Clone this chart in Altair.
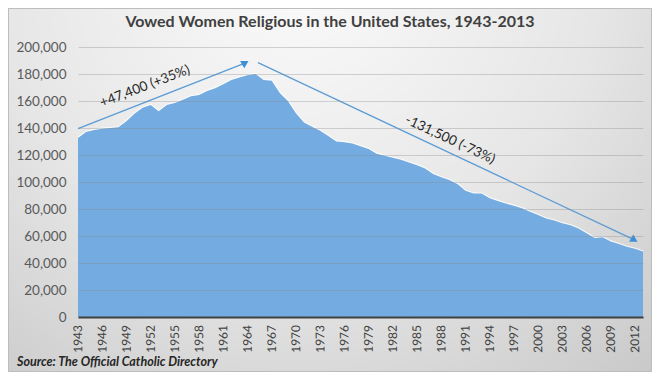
import altair as alt
import pandas as pd

years = list(range(1943, 2014))
sisters = [
    132600, 137000, 138500, 139500, 140000, 140500, 145000, 150500, 155000, 157000,
    152500, 157000, 158500, 161000, 163500, 164500, 167500, 169500, 172500, 175500,
    177500, 179000, 180000, 175500, 175000, 166000, 160000, 151000, 144000, 141000,
    138000, 134000, 130000, 129500, 128500, 126500, 124500, 121000, 119500, 118000,
    116500, 114500, 112500, 110000, 106000, 103500, 101500, 98500, 93500, 91500,
    91500, 88000, 86000, 84000, 82500, 80500, 78000, 75500, 73000, 71500,
    69500, 68000, 65500, 62000, 58500, 59000, 56000, 54000, 52000, 50500,
    48500,
]

tick_years = list(range(1943, 2013, 3))
y_ticks = list(range(0, 200001, 20000))

# annotation arrows (data coordinates)
arrow_x1 = [1943.0, 1965.3]
arrow_y1 = [139500, 188400]
arrow_x2 = [1963.6, 2011.8]
arrow_y2 = [187800, 57500]
head_angle = [180, 0]

note_text = ["+47,400 (+35%)", "-131,500 (-73%)"]
note_x = [1951.3, 1989.1]
note_y = [170800, 131300]
note_angle = [339, 25]

title_text = "Vowed Women Religious in the United States, 1943-2013"
source_text = "Source:  The Official Catholic Directory"

df = pd.DataFrame({"year": years, "n": sisters})
arrows = pd.DataFrame({"x1": arrow_x1, "y1": arrow_y1, "x2": arrow_x2, "y2": arrow_y2,
                       "ang": head_angle})
notes = pd.DataFrame({"t": note_text, "x": note_x, "y": note_y, "a": note_angle})
ticks_df = pd.DataFrame({"yr": tick_years, "lab": [str(v) for v in tick_years]})

W, H = 565, 270
FONT = "Lato"

xscale = alt.Scale(domain=[1943, 2013], nice=False, zero=False)
yscale = alt.Scale(domain=[0, 200000], nice=False)

xaxis = alt.Axis(
    values=tick_years, labels=False, title=None, grid=False,
    ticks=False, domain=True, domainColor="#404040", domainWidth=2, zindex=1)
yaxis = alt.Axis(
    values=y_ticks, format=",.0f", title=None, ticks=False, domain=False,
    grid=True, gridColor="#8a8a8a", gridOpacity=0.35, gridWidth=1,
    labelFont=FONT, labelFontSize=13.5, labelColor="#595959", labelPadding=12,
    labelOverlap=False, labelFlush=False, zindex=1)


def X(f):
    return alt.X(f, scale=xscale, axis=xaxis)


def Y(f):
    return alt.Y(f, scale=yscale, axis=yaxis)


bg = alt.Chart(pd.DataFrame({"k": [0]})).mark_rect(
    fill={"gradient": "radial", "x1": 0.45, "y1": 0.15, "r1": 0.0,
          "x2": 0.45, "y2": 0.15, "r2": 0.85,
          "stops": [{"offset": 0, "color": "#fbfbfb"},
                    {"offset": 0.55, "color": "#e6e6e6"},
                    {"offset": 1, "color": "#c8c8c8"}]},
    stroke="#bdbdbd", strokeWidth=1,
).encode(x=alt.value(-69.5), x2=alt.value(W + 8.5), y=alt.value(-38.5), y2=alt.value(H + 54.5))

halo = alt.Chart(df).mark_line(color="white", strokeWidth=2.2, opacity=0.8).encode(
    x=X("year:Q"), y=Y("n:Q"))
area = alt.Chart(df).mark_area(color="#74abe0", opacity=1).encode(
    x=X("year:Q"), y=Y("n:Q"))

rules = alt.Chart(arrows).mark_rule(color="#5b9bd5", strokeWidth=1.3).encode(
    x=X("x1:Q"), y=Y("y1:Q"), x2="x2:Q", y2="y2:Q")
heads = alt.Chart(arrows).mark_point(shape="triangle", filled=True, size=70,
                                     color="#3d8fd6", opacity=1).encode(
    x=X("x2:Q"), y=Y("y2:Q"), angle=alt.Angle("ang:Q", scale=None))

texts = alt.Chart(notes).mark_text(font=FONT, fontSize=13.5, color="#262626",
                                   align="center", baseline="middle").encode(
    x=X("x:Q"), y=Y("y:Q"), text="t:N", angle=alt.Angle("a:Q", scale=None))

xlabels = alt.Chart(ticks_df).mark_text(
    font=FONT, fontSize=12, color="#404040",
    align="right", baseline="middle").encode(
    x=X("yr:Q"), y=alt.value(H + 8), text="lab:N",
    angle=alt.value(269.5))

title = alt.Chart(pd.DataFrame({"t": [title_text]})).mark_text(
    font=FONT, fontSize=16, fontWeight="bold", color="#404040",
    align="center", baseline="middle").encode(
    text="t:N", x=alt.value(252), y=alt.value(-25))

source = alt.Chart(pd.DataFrame({"t": [source_text]})).mark_text(
    font=FONT, fontSize=12.5, fontStyle="italic", fontWeight="bold", color="#262626",
    align="left", baseline="middle").encode(
    text="t:N", x=alt.value(-61), y=alt.value(H + 45))

chart = alt.layer(bg, halo, area, rules, heads, texts, xlabels, title, source).properties(
    width=W, height=H,
    autosize=alt.AutoSizeParams(type="none"),
    padding={"left": 70, "top": 39, "right": 9, "bottom": 55},
).configure(background="#e4e4e4").configure_view(stroke=None)

chart.save("out.html", embed_options={"renderer": "svg", "actions": False})
